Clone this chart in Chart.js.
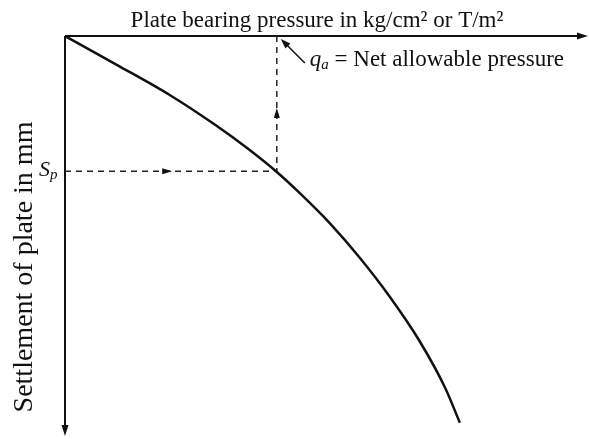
<!DOCTYPE html>
<html>
<head>
<meta charset="utf-8">
<script src="https://cdn.jsdelivr.net/npm/chart.js@4.4.1/dist/chart.umd.min.js"></script>
<style>
    html, body { margin: 0; padding: 0; background: #fff; }
    #wrap { width: 589px; height: 439px; }
</style>
</head>
<body>
<div id="wrap"><canvas id="c" width="589" height="439"></canvas></div>
<script>
// Plate load test: bearing pressure vs settlement (no tick values in the figure,
// so units are arbitrary, 0..10 on both axes)
var pressure   = [0, 0.99, 2.01, 2.87, 3.50, 4.05, 4.49, 5.07, 5.64, 6.21, 6.79, 7.27, 7.55];
var settlement = [0, 0.72, 1.48, 2.22, 2.82, 3.40, 3.93, 4.69, 5.55, 6.52, 7.65, 8.80, 9.67];
var qa = 4.05;          // net allowable pressure
var sp = 3.38;          // plate settlement
var xMax = 10, yMax = 10;
var arrowOnSp = 2.05;   // where the arrow sits on the horizontal guide
var arrowOnQa = 1.80;   // where the arrow sits on the vertical guide
var xTitle = 'Plate bearing pressure in kg/cm\u00b2 or T/m\u00b2';
var yTitle = 'Settlement of plate in mm';
var qaLabel = ' = Net allowable pressure';

(function () {
    'use strict';

    var INK = '#111';
    var SERIF = '"Liberation Serif", "DejaVu Serif", serif';

    var curve = [];
    for (var i = 0; i < pressure.length; i++) curve.push({ x: pressure[i], y: settlement[i] });

    var guide = [{ x: 0, y: sp }, { x: qa, y: sp }, { x: qa, y: 0 }];

    function arrowHead(ctx, x, y, angle, len, half) {
        ctx.save();
        ctx.translate(x, y);
        ctx.rotate(angle);
        ctx.beginPath();
        ctx.moveTo(0, 0);
        ctx.lineTo(-len, -half);
        ctx.lineTo(-len, half);
        ctx.closePath();
        ctx.fill();
        ctx.restore();
    }

    var sketch = {
        id: 'sketch',
        beforeDatasetsDraw: function (chart) {
            var ctx = chart.ctx, xs = chart.scales.x, ys = chart.scales.y;
            var x0 = xs.getPixelForValue(0), y0 = ys.getPixelForValue(0);
            var x1 = xs.getPixelForValue(xMax), y1 = ys.getPixelForValue(yMax);
            ctx.save();
            ctx.strokeStyle = INK;
            ctx.fillStyle = INK;
            ctx.lineWidth = 2;
            ctx.beginPath();
            ctx.moveTo(x0, y0); ctx.lineTo(x1 - 6, y0);
            ctx.moveTo(x0, y0); ctx.lineTo(x0, y1 - 6);
            ctx.stroke();
            arrowHead(ctx, x1, y0, 0, 11, 3.5);
            arrowHead(ctx, x0, y1, Math.PI / 2, 11, 3.5);
            ctx.restore();
        },
        afterDatasetsDraw: function (chart) {
            var ctx = chart.ctx, xs = chart.scales.x, ys = chart.scales.y;
            var x0 = xs.getPixelForValue(0), y0 = ys.getPixelForValue(0);
            var xq = xs.getPixelForValue(qa), ysp = ys.getPixelForValue(sp);
            ctx.save();
            ctx.fillStyle = INK;
            ctx.strokeStyle = INK;

            // arrows on the dashed guides
            arrowHead(ctx, xs.getPixelForValue(arrowOnSp), ysp, 0, 10, 3);
            arrowHead(ctx, xq, ys.getPixelForValue(arrowOnQa), -Math.PI / 2, 10, 3);

            // leader to q_a
            var tx = xq + 4, ty = y0 + 3;
            ctx.lineWidth = 1.5;
            ctx.beginPath();
            ctx.moveTo(tx + 24, ty + 24);
            ctx.lineTo(tx + 5, ty + 5);
            ctx.stroke();
            arrowHead(ctx, tx, ty, Math.atan2(-1, -1), 10, 3.5);

            // axis titles
            ctx.textBaseline = 'alphabetic';
            ctx.textAlign = 'center';
            ctx.font = '23px ' + SERIF;
            ctx.fillText(xTitle, 317, y0 - 9);

            ctx.save();
            ctx.translate(x0 - 33, 267);
            ctx.rotate(-Math.PI / 2);
            ctx.font = '28px ' + SERIF;
            ctx.fillText(yTitle, 0, 0);
            ctx.restore();

            // q_a label
            ctx.textAlign = 'left';
            var lx = xq + 33, ly = y0 + 30;
            ctx.font = 'italic 23px ' + SERIF;
            ctx.fillText('q', lx, ly);
            lx += ctx.measureText('q').width;
            ctx.font = 'italic 15px ' + SERIF;
            ctx.fillText('a', lx, ly + 3);
            lx += ctx.measureText('a').width;
            ctx.font = '23px ' + SERIF;
            ctx.fillText(qaLabel, lx, ly);

            // S_p label
            var sx = x0 - 26;
            ctx.font = 'italic 22px ' + SERIF;
            ctx.fillText('S', sx, ysp + 5);
            sx += ctx.measureText('S').width;
            ctx.font = 'italic 15px ' + SERIF;
            ctx.fillText('p', sx, ysp + 8);
            ctx.restore();
        }
    };

    new Chart(document.getElementById('c'), {
        type: 'scatter',
        data: {
            datasets: [
                {
                    label: 'Load-settlement curve',
                    data: curve,
                    showLine: true,
                    borderColor: INK,
                    borderWidth: 2.5,
                    pointRadius: 0,
                    cubicInterpolationMode: 'monotone',
                    fill: false
                },
                {
                    label: 'Guide',
                    data: guide,
                    showLine: true,
                    borderColor: '#222',
                    borderWidth: 1.5,
                    borderDash: [6, 5],
                    pointRadius: 0,
                    tension: 0,
                    fill: false
                }
            ]
        },
        options: {
            responsive: false,
            animation: false,
            events: [],
            layout: { padding: { left: 65, top: 36, right: 1, bottom: 3 } },
            plugins: {
                legend: { display: false },
                tooltip: { enabled: false }
            },
            scales: {
                x: { type: 'linear', display: false, min: 0, max: xMax },
                y: { type: 'linear', display: false, min: 0, max: yMax, reverse: true }
            }
        },
        plugins: [sketch]
    });
})();
</script>
</body>
</html>
